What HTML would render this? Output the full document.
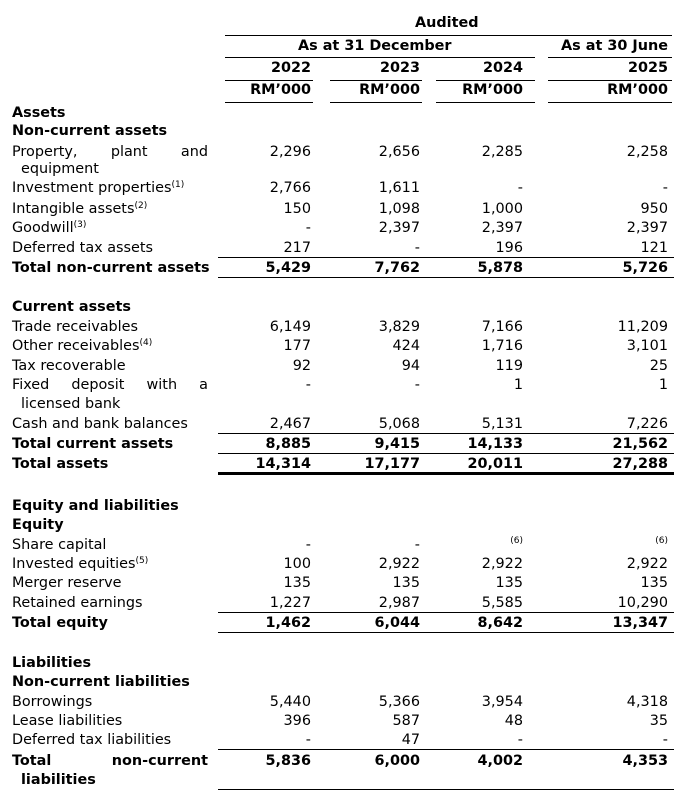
<!DOCTYPE html>
<html><head><meta charset="utf-8"><style>
body{margin:0;width:684px;height:804px;background:#fff;position:relative;overflow:hidden;font-family:"DejaVu Sans","Liberation Sans",sans-serif;font-size:14.4px;color:#000}
div{position:absolute;line-height:20px;white-space:nowrap}
.b{font-weight:bold}
.l{left:12px}
.v1{right:373px}.v2{right:264px}.v3{right:161px}.v4{right:16px}
.h{height:0;border-top:1.3px solid #000;line-height:0}
.w{left:218px;width:456px}
sup{font-size:9px;vertical-align:5px;line-height:0}
.s{font-size:9px}
.j{display:flex;justify-content:space-between;width:196px}
</style></head><body>
<div class="b" style="left:415px;top:13px">Audited</div>
<div class="h" style="left:225px;width:447px;top:35px"></div>
<div class="b" style="left:298px;top:36px">As at 31 December</div>
<div class="b v4" style="top:36px">As at 30 June</div>
<div class="h" style="left:225px;width:310px;top:57px"></div>
<div class="h" style="left:548px;width:124px;top:57px"></div>
<div class="b v1" style="top:58px">2022</div><div class="b v2" style="top:58px">2023</div><div class="b v3" style="top:58px">2024</div><div class="b v4" style="top:58px">2025</div>
<div class="h" style="left:225px;width:88px;top:80px"></div>
<div class="h" style="left:330px;width:92px;top:80px"></div>
<div class="h" style="left:436px;width:99px;top:80px"></div>
<div class="h" style="left:548px;width:124px;top:80px"></div>
<div class="b v1" style="top:80px">RM’000</div><div class="b v2" style="top:80px">RM’000</div><div class="b v3" style="top:80px">RM’000</div><div class="b v4" style="top:80px">RM’000</div>
<div class="h" style="left:225px;width:88px;top:102px"></div>
<div class="h" style="left:330px;width:92px;top:102px"></div>
<div class="h" style="left:436px;width:99px;top:102px"></div>
<div class="h" style="left:548px;width:124px;top:102px"></div>

<div class="b l" style="top:103px">Assets</div>
<div class="b l" style="top:121px">Non-current assets</div>
<div class="l j" style="top:142px"><span>Property,</span><span>plant</span><span>and</span></div>
<div class="v1" style="top:142px">2,296</div><div class="v2" style="top:142px">2,656</div><div class="v3" style="top:142px">2,285</div><div class="v4" style="top:142px">2,258</div>
<div style="left:21px;top:159px">equipment</div>
<div class="l" style="top:178px">Investment properties<sup>(1)</sup></div>
<div class="v1" style="top:178px">2,766</div><div class="v2" style="top:178px">1,611</div><div class="v3" style="top:178px">-</div><div class="v4" style="top:178px">-</div>
<div class="l" style="top:199px">Intangible assets<sup>(2)</sup></div>
<div class="v1" style="top:199px">150</div><div class="v2" style="top:199px">1,098</div><div class="v3" style="top:199px">1,000</div><div class="v4" style="top:199px">950</div>
<div class="l" style="top:218px">Goodwill<sup>(3)</sup></div>
<div class="v1" style="top:218px">-</div><div class="v2" style="top:218px">2,397</div><div class="v3" style="top:218px">2,397</div><div class="v4" style="top:218px">2,397</div>
<div class="l" style="top:238px">Deferred tax assets</div>
<div class="v1" style="top:238px">217</div><div class="v2" style="top:238px">-</div><div class="v3" style="top:238px">196</div><div class="v4" style="top:238px">121</div>
<div class="h w" style="top:257px"></div>
<div class="b l" style="top:258px">Total non-current assets</div>
<div class="b v1" style="top:258px">5,429</div><div class="b v2" style="top:258px">7,762</div><div class="b v3" style="top:258px">5,878</div><div class="b v4" style="top:258px">5,726</div>
<div class="h w" style="top:277px"></div>

<div class="b l" style="top:297px">Current assets</div>
<div class="l" style="top:317px">Trade receivables</div>
<div class="v1" style="top:317px">6,149</div><div class="v2" style="top:317px">3,829</div><div class="v3" style="top:317px">7,166</div><div class="v4" style="top:317px">11,209</div>
<div class="l" style="top:336px">Other receivables<sup>(4)</sup></div>
<div class="v1" style="top:336px">177</div><div class="v2" style="top:336px">424</div><div class="v3" style="top:336px">1,716</div><div class="v4" style="top:336px">3,101</div>
<div class="l" style="top:356px">Tax recoverable</div>
<div class="v1" style="top:356px">92</div><div class="v2" style="top:356px">94</div><div class="v3" style="top:356px">119</div><div class="v4" style="top:356px">25</div>
<div class="l j" style="top:375px"><span>Fixed</span><span>deposit</span><span>with</span><span>a</span></div>
<div class="v1" style="top:375px">-</div><div class="v2" style="top:375px">-</div><div class="v3" style="top:375px">1</div><div class="v4" style="top:375px">1</div>
<div style="left:21px;top:394px">licensed bank</div>
<div class="l" style="top:414px">Cash and bank balances</div>
<div class="v1" style="top:414px">2,467</div><div class="v2" style="top:414px">5,068</div><div class="v3" style="top:414px">5,131</div><div class="v4" style="top:414px">7,226</div>
<div class="h w" style="top:433px"></div>
<div class="b l" style="top:434px">Total current assets</div>
<div class="b v1" style="top:434px">8,885</div><div class="b v2" style="top:434px">9,415</div><div class="b v3" style="top:434px">14,133</div><div class="b v4" style="top:434px">21,562</div>
<div class="h w" style="top:453px"></div>
<div class="b l" style="top:454px">Total assets</div>
<div class="b v1" style="top:454px">14,314</div><div class="b v2" style="top:454px">17,177</div><div class="b v3" style="top:454px">20,011</div><div class="b v4" style="top:454px">27,288</div>
<div class="h w" style="top:472px;border-top-width:3px"></div>

<div class="b l" style="top:496px">Equity and liabilities</div>
<div class="b l" style="top:515px">Equity</div>
<div class="l" style="top:535px">Share capital</div>
<div class="v1" style="top:535px">-</div><div class="v2" style="top:535px">-</div><div class="v3 s" style="top:531px">(6)</div><div class="v4 s" style="top:531px">(6)</div>
<div class="l" style="top:554px">Invested equities<sup>(5)</sup></div>
<div class="v1" style="top:554px">100</div><div class="v2" style="top:554px">2,922</div><div class="v3" style="top:554px">2,922</div><div class="v4" style="top:554px">2,922</div>
<div class="l" style="top:573px">Merger reserve</div>
<div class="v1" style="top:573px">135</div><div class="v2" style="top:573px">135</div><div class="v3" style="top:573px">135</div><div class="v4" style="top:573px">135</div>
<div class="l" style="top:593px">Retained earnings</div>
<div class="v1" style="top:593px">1,227</div><div class="v2" style="top:593px">2,987</div><div class="v3" style="top:593px">5,585</div><div class="v4" style="top:593px">10,290</div>
<div class="h w" style="top:612px"></div>
<div class="b l" style="top:613px">Total equity</div>
<div class="b v1" style="top:613px">1,462</div><div class="b v2" style="top:613px">6,044</div><div class="b v3" style="top:613px">8,642</div><div class="b v4" style="top:613px">13,347</div>
<div class="h w" style="top:632px"></div>

<div class="b l" style="top:653px">Liabilities</div>
<div class="b l" style="top:672px">Non-current liabilities</div>
<div class="l" style="top:692px">Borrowings</div>
<div class="v1" style="top:692px">5,440</div><div class="v2" style="top:692px">5,366</div><div class="v3" style="top:692px">3,954</div><div class="v4" style="top:692px">4,318</div>
<div class="l" style="top:711px">Lease liabilities</div>
<div class="v1" style="top:711px">396</div><div class="v2" style="top:711px">587</div><div class="v3" style="top:711px">48</div><div class="v4" style="top:711px">35</div>
<div class="l" style="top:730px">Deferred tax liabilities</div>
<div class="v1" style="top:730px">-</div><div class="v2" style="top:730px">47</div><div class="v3" style="top:730px">-</div><div class="v4" style="top:730px">-</div>
<div class="h w" style="top:749px"></div>
<div class="b l j" style="top:751px"><span>Total</span><span>non-current</span></div>
<div class="b v1" style="top:751px">5,836</div><div class="b v2" style="top:751px">6,000</div><div class="b v3" style="top:751px">4,002</div><div class="b v4" style="top:751px">4,353</div>
<div class="b" style="left:21px;top:770px">liabilities</div>
<div class="h w" style="top:789px"></div>
</body></html>
